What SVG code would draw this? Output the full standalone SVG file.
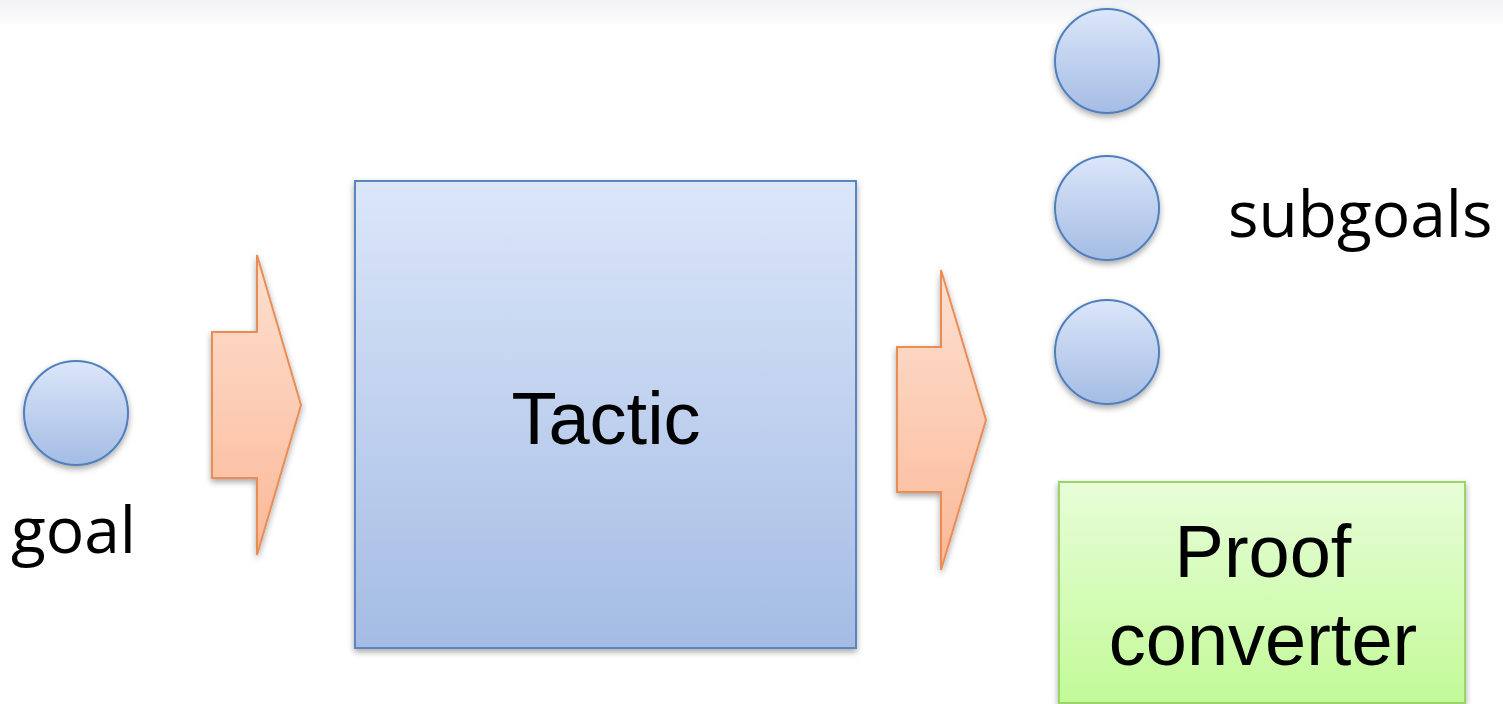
<svg xmlns="http://www.w3.org/2000/svg" width="1503" height="704" viewBox="0 0 1503 704">
  <defs>
    <linearGradient id="bandGrad" x1="0" y1="0" x2="0" y2="1">
      <stop offset="0" stop-color="#f1f2f5"/>
      <stop offset="1" stop-color="#ffffff"/>
    </linearGradient>
    <linearGradient id="blueGrad" x1="0" y1="0" x2="0" y2="1">
      <stop offset="0" stop-color="#dbe6f9"/>
      <stop offset="1" stop-color="#a4bce4"/>
    </linearGradient>
    <linearGradient id="orangeGrad" x1="0" y1="0" x2="0" y2="1">
      <stop offset="0" stop-color="#fde0d0"/>
      <stop offset="1" stop-color="#fbb898"/>
    </linearGradient>
    <linearGradient id="greenGrad" x1="0" y1="0" x2="0" y2="1">
      <stop offset="0" stop-color="#e7fdd8"/>
      <stop offset="1" stop-color="#c2fa98"/>
    </linearGradient>
    <filter id="shadow" x="-20%" y="-20%" width="140%" height="140%">
      <feDropShadow dx="0" dy="3" stdDeviation="3" flood-color="#000" flood-opacity="0.35"/>
    </filter>
  </defs>
  <style>
    .ball { fill: url(#blueGrad); stroke: #4f7fbd; stroke-width: 2; filter: url(#shadow); }
    .box { fill: url(#blueGrad); stroke: #5b84c0; stroke-width: 2; filter: url(#shadow); }
    .green { fill: url(#greenGrad); stroke: #9ad568; stroke-width: 2; filter: url(#shadow); }
    .flow { fill: url(#orangeGrad); stroke: #ea8d55; stroke-width: 2; stroke-linejoin: miter; filter: url(#shadow); }
    .label { font-family: "Open Sans", "DejaVu Sans", sans-serif; font-size: 64px; fill: #000; }
    .title { font-family: "Liberation Sans", Arial, sans-serif; font-size: 74px; fill: #000; text-anchor: middle; }
  </style>

  <!-- faint band along the top edge -->
  <rect x="0" y="0" width="1503" height="28" fill="url(#bandGrad)"/>

  <g id="goal">
    <circle class="ball" cx="76" cy="413" r="52"/>
    <text class="label" x="11" y="553">goal</text>
  </g>

  <g id="tactic">
    <rect class="box" x="355" y="181" width="501" height="467"/>
    <text class="title" x="606" y="444">Tactic</text>
  </g>

  <g id="subgoals">
    <circle class="ball" cx="1107" cy="61" r="52"/>
    <circle class="ball" cx="1107" cy="208" r="52"/>
    <circle class="ball" cx="1107" cy="352" r="52"/>
    <text class="label" x="1228" y="237">subgoals</text>
  </g>

  <g id="proof-converter">
    <rect class="green" x="1059" y="482" width="406" height="221"/>
    <text class="title" x="1263" y="577">Proof</text>
    <text class="title" x="1263" y="665">converter</text>
  </g>

  <!-- block arrows carrying the goal into and out of the tactic -->
  <g id="connectors">
    <path class="flow" d="M212,332 H257 V255 L301,405 L257,555 V478 H212 Z"/>
    <path class="flow" d="M897,347 H941 V270 L986,420 L941,570 V492 H897 Z"/>
  </g>
</svg>
